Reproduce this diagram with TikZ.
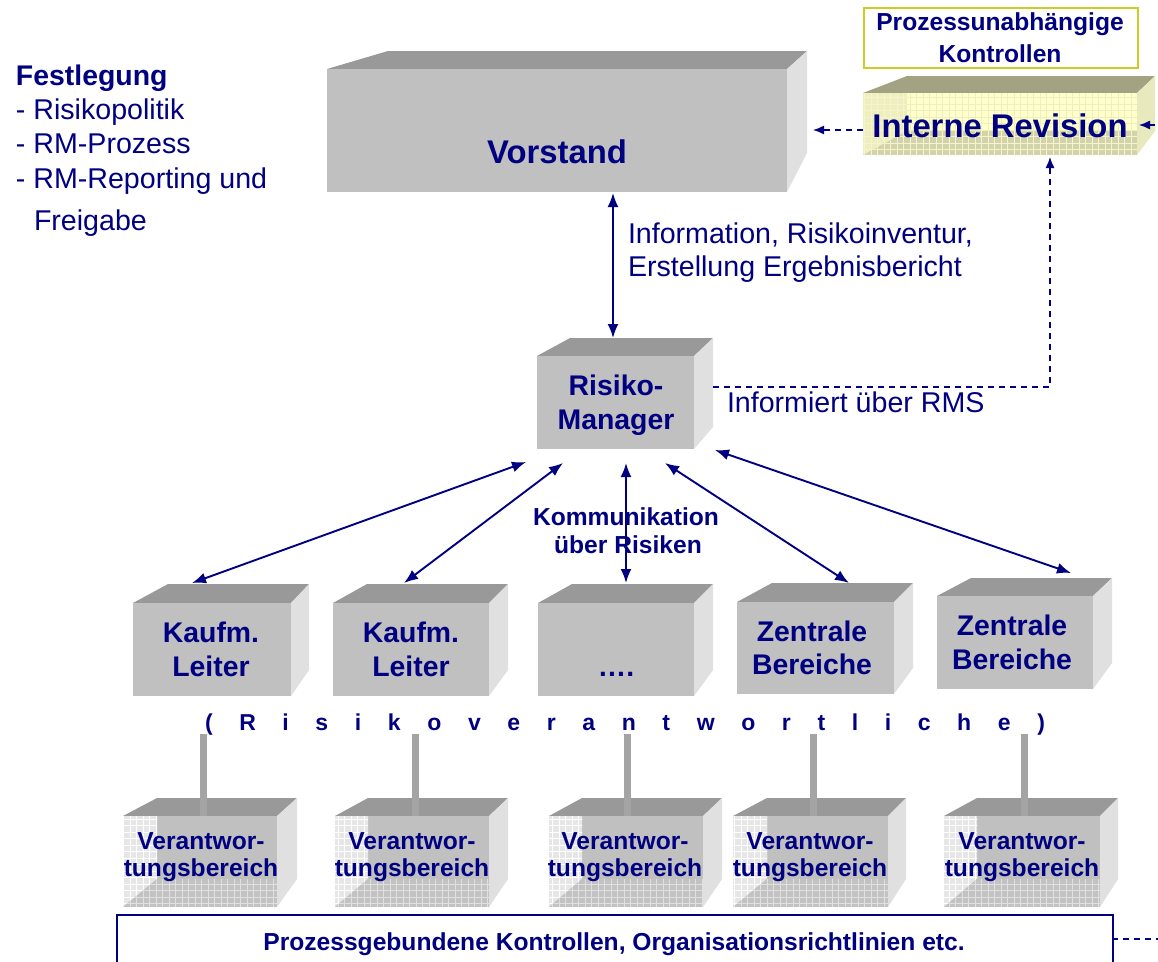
\documentclass[tikz,border=0pt]{standalone}
\usepackage{fontspec}
\setmainfont{Liberation Sans}
\usetikzlibrary{arrows.meta}
\definecolor{ink}{HTML}{000080}
\definecolor{gtop}{HTML}{999999}
\definecolor{gfront}{HTML}{C0C0C0}
\definecolor{gside}{HTML}{E0E0E0}
\definecolor{stemgray}{HTML}{A4A4A4}
\definecolor{wallc}{HTML}{E6E6E6}
\definecolor{floorc}{HTML}{C2C2C2}
\definecolor{ytop}{HTML}{A3A383}
\definecolor{yfront}{HTML}{FFFFCC}
\definecolor{yside}{HTML}{E9E9BE}
\definecolor{ywall}{HTML}{EFEFBE}
\definecolor{yfloor}{HTML}{D3D3AA}
\definecolor{ygrid}{HTML}{F4F4D0}
\definecolor{kbord}{HTML}{CCCC22}
% solid box: x1 x2 y1 y2 backleft backright backtop sidebottom
\newcommand{\solidcube}[8]{%
  \fill[cube top] (#1,#3) -- (#5,#7) -- (#6,#7) -- (#2,#3) -- cycle;
  \fill[cube side] (#2,#3) -- (#6,#7) -- (#6,#8) -- (#2,#4) -- cycle;
  \fill[cube front] (#1,#3) rectangle (#2,#4);
}
% open (wire) box
\newcommand{\opencube}[8]{%
  \fill[cube top] (#1,#3) -- (#5,#7) -- (#6,#7) -- (#2,#3) -- cycle;
  \fill[cube side] (#2,#3) -- (#6,#7) -- (#6,#8) -- (#2,#4) -- cycle;
  \fill[cube front] (#1,#3) rectangle (#2,#4);
  \begin{scope}
    \clip (#1,#3) -- (#5,#3) -- (#5,#8) -- (#1,#4) -- cycle;
    \fill[wall] (#1,#3) rectangle (#2,#4);
    \draw[wallgrid, step=6.5pt] (#1,#4) grid (#2,#3);
  \end{scope}
  \begin{scope}
    \clip (#1,#4) -- (#5,#8) -- (#2,#8) -- (#2,#4) -- cycle;
    \fill[floor] (#1,#3) rectangle (#2,#4);
    \draw[floorgrid, step=6.5pt] (#1,#4) grid (#2,#3);
  \end{scope}
}
\begin{document}
\begin{tikzpicture}[x=1pt,y=-1pt,
  txt/.style={text=ink, inner sep=0pt, outer sep=0pt},
  lbl/.style={txt, font=\fontsize{28.6}{34}\selectfont},
  boldlbl/.style={txt, font=\bfseries\fontsize{28.4}{34}\selectfont},
  bigbold/.style={txt, font=\bfseries\fontsize{32.8}{38}\selectfont},
  smallbold/.style={txt, font=\bfseries\fontsize{24.6}{29}\selectfont},
  rvfont/.style={txt, font=\bfseries\fontsize{23}{27}\selectfont},
  link/.style={draw=ink, line width=1.9pt, {Latex[length=14pt,width=11pt]}-{Latex[length=14pt,width=11pt]}},
  dlink/.style={draw=ink, line width=1.3pt, dash pattern=on 6pt off 5pt},
  dtip/.style={-{Latex[length=11pt,width=9pt]}},
  stem/.style={draw=stemgray, line width=7pt},
  cube top/.style={fill=gtop},
  cube side/.style={fill=gside},
  cube front/.style={fill=gfront},
  wall/.style={fill=wallc},
  floor/.style={fill=floorc},
  wallgrid/.style={draw=white, line width=0.9pt},
  floorgrid/.style={draw=gside, line width=0.9pt},
  frame/.style={draw=ink, line width=1.5pt, fill=white},
  kbox/.style={draw=kbord, line width=1.5pt, fill=white}
]
\clip (0,0) rectangle (1158,961);
\fill[white] (0,0) rectangle (1158,961);

% ---------------- solid boxes ----------------
\solidcube{327}{787}{69}{192}{388}{807}{51}{153}
\solidcube{537}{694}{356}{449}{570}{713}{338}{427}
\solidcube{133}{291}{603}{696}{168}{309}{584}{670}
\solidcube{333}{489}{603}{696}{367}{508}{584}{670}
\solidcube{538}{694}{603}{696}{572}{713}{584}{670}
\solidcube{737}{894}{602}{694}{772}{913}{583}{668}
\solidcube{937}{1093}{596}{689}{971}{1112}{578}{663}

% ---------------- Interne Revision (open, yellow) ----------------
\begin{scope}[cube top/.style={fill=ytop}, cube side/.style={fill=yside},
  cube front/.style={fill=yfront}, wall/.style={fill=ywall}, floor/.style={fill=yfloor},
  wallgrid/.style={draw=ygrid, line width=0.9pt}, floorgrid/.style={draw=ygrid, line width=0.9pt}]
  \opencube{863}{1137}{93}{155}{907}{1155}{76}{131}
  \begin{scope}
    \clip (907,93) rectangle (1137,131);
    \draw[draw=ywall, line width=0.6pt, step=6.5pt] (907,131) grid (1137,93);
  \end{scope}
\end{scope}

% ---------------- Verantwortungsbereich boxes ----------------
\opencube{123}{277}{816}{907}{157}{297}{798}{879}
\opencube{335}{489}{816}{907}{368}{508}{798}{879}
\opencube{549}{703}{816}{907}{582}{722}{798}{879}
\opencube{733}{888}{816}{907}{767}{906}{798}{879}
\opencube{944}{1100}{816}{907}{977}{1118}{798}{879}

% stems
\coordinate (s1t) at (203,734); \coordinate (s1b) at (203,816);
\coordinate (s2t) at (415,734); \coordinate (s2b) at (415,816);
\coordinate (s3t) at (627,734); \coordinate (s3b) at (627,816);
\coordinate (s4t) at (813,734); \coordinate (s4b) at (813,816);
\coordinate (s5t) at (1024,734); \coordinate (s5b) at (1024,816);
\foreach \i in {1,...,5} \draw[stem] (s\i t) -- (s\i b);

% ---------------- frames ----------------
\node[kbox, minimum width=274pt, minimum height=60pt, anchor=north west] (kframe) at (863,7) {};
\node[frame, minimum width=996pt, minimum height=60pt, anchor=north west] (pframe) at (116,914) {};

% ---------------- texts ----------------
\node[smallbold, anchor=base] (k1) at (1000,30) {Prozessunabhängige};
\node[smallbold, anchor=base] (k2) at (1000,62) {Kontrollen};
\node[bigbold, anchor=base] (ir) at (1000,137) {Interne Revision};
\node[bigbold, anchor=base] (vor) at (557,163) {Vorstand};

\node[boldlbl, anchor=base west] (fest) at (16,85) {Festlegung};
\node[lbl, anchor=base west] (f1) at (16,119) {- Risikopolitik};
\node[lbl, anchor=base west] (f2) at (16,153) {- RM-Prozess};
\node[lbl, anchor=base west] (f3) at (16,188) {- RM-Reporting und};
\node[lbl, anchor=base west] (f4) at (34,230) {Freigabe};

\node[lbl, anchor=base west] (info1) at (628,243) {Information, Risikoinventur,};
\node[lbl, anchor=base west] (info2) at (628,276) {Erstellung Ergebnisbericht};
\node[lbl, anchor=base west] (rms) at (727,412) {Informiert über RMS};

\node[boldlbl, anchor=base] (rm1) at (616,395) {Risiko-};
\node[boldlbl, anchor=base] (rm2) at (616,429) {Manager};

\node[smallbold, anchor=base] (kom1) at (626,525) {Kommunikation};
\node[smallbold, anchor=base] (kom2) at (628,553) {über Risiken};

\node[boldlbl, anchor=base] (b1a) at (211,642) {Kaufm.};
\node[boldlbl, anchor=base] (b1b) at (211,676) {Leiter};
\node[boldlbl, anchor=base] (b2a) at (411,642) {Kaufm.};
\node[boldlbl, anchor=base] (b2b) at (411,676) {Leiter};
\node[boldlbl, anchor=base] (b3) at (616,676) {….};
\node[boldlbl, anchor=base] (b4a) at (812,641) {Zentrale};
\node[boldlbl, anchor=base] (b4b) at (812,674) {Bereiche};
\node[boldlbl, anchor=base] (b5a) at (1012,635) {Zentrale};
\node[boldlbl, anchor=base] (b5b) at (1012,669) {Bereiche};

\node[rvfont, anchor=base west] (rv) at (205,730)
  {\makebox[840pt][s]{( R i s i k o v e r a n t w o r t l i c h e )}};

\foreach \n/\x in {1/201,2/412,3/625,4/810,5/1022}{
  \node[smallbold, anchor=base] (va\n) at (\x,849) {Verantwor-};
  \node[smallbold, anchor=base] (vb\n) at (\x,876) {tungsbereich};
}

\node[smallbold, anchor=base] (ptext) at (614,950) {Prozessgebundene Kontrollen, Organisationsrichtlinien etc.};

% ---------------- connectors ----------------
\coordinate (vor-b) at (613,193);
\coordinate (rm-t) at (613,338);
\draw[link] (vor-b) -- (rm-t);

\coordinate (rm-1) at (526,462); \coordinate (t-1) at (192,583);
\coordinate (rm-2) at (563,463); \coordinate (t-2) at (404,583);
\coordinate (rm-3) at (626,463); \coordinate (t-3) at (626,583);
\coordinate (rm-4) at (665,463); \coordinate (t-4) at (849,583);
\coordinate (rm-5) at (715,450); \coordinate (t-5) at (1071,573);
\foreach \i in {1,...,5} \draw[link] (rm-\i) -- (t-\i);

% RM -> Interne Revision (dashed)
\coordinate (rm-r) at (713,387);
\coordinate (ir-b) at (1050,157);
\draw[dlink, dtip] (rm-r) -| (ir-b);

% Interne Revision -> Vorstand
\coordinate (ir-l) at (863,130);
\coordinate (vor-r) at (813,130);
\draw[dlink, dtip] (ir-l) -- (vor-r);

% Prozessgebundene -> Interne Revision (runs off the right edge)
\coordinate (p-r) at (1112,939);
\coordinate (off) at (1172,125);
\coordinate (ir-r) at (1139,125);
\draw[dlink, dtip] (p-r) -| (off) -- (ir-r);
\end{tikzpicture}
\end{document}
